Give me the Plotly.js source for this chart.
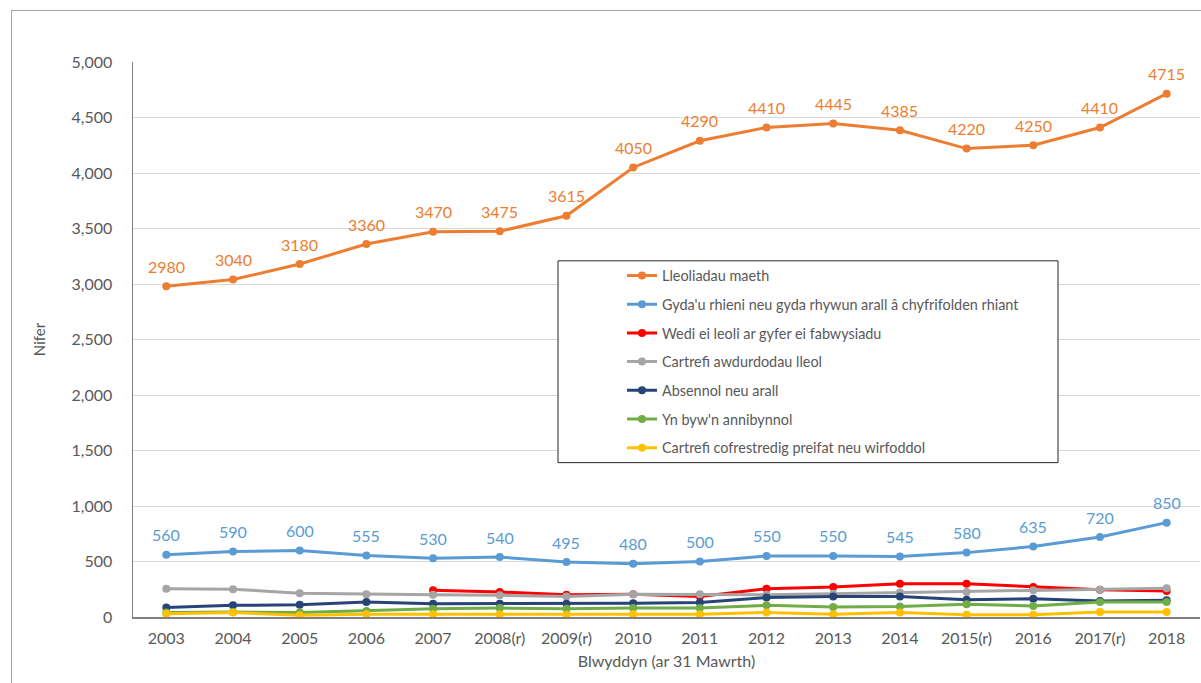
<!DOCTYPE html>
<html>
<head>
<meta charset="utf-8">
<script src="https://cdn.plot.ly/plotly-3.0.1.min.js"></script>
<style>
html,body{margin:0;padding:0;background:#fff;}
#wrap{position:relative;width:1201px;height:683px;overflow:hidden;}
#chart{position:absolute;left:0;top:0;width:1201px;height:683px;}
#frame{position:absolute;left:11px;top:10px;width:1300px;height:800px;border-left:1px solid #A6A6A6;border-top:1px solid #A6A6A6;pointer-events:none;}
</style>
</head>
<body>
<div id="wrap"><div id="chart"></div><div id="frame"></div></div>
<script>
const years = ["2003","2004","2005","2006","2007","2008(r)","2009(r)","2010","2011","2012","2013","2014","2015(r)","2016","2017(r)","2018"];

const seriesNames = [
  "Lleoliadau maeth",
  "Gyda'u rhieni neu gyda rhywun arall â chyfrifolden rhiant",
  "Wedi ei leoli ar gyfer ei fabwysiadu",
  "Cartrefi awdurdodau lleol",
  "Absennol neu arall",
  "Yn byw'n annibynnol",
  "Cartrefi cofrestredig preifat neu wirfoddol"
];

const fosterPlacements = [2980,3040,3180,3360,3470,3475,3615,4050,4290,4410,4445,4385,4220,4250,4410,4715];
const withParents      = [560,590,600,555,530,540,495,480,500,550,550,545,580,635,720,850];
const placedForAdoption= [null,null,null,null,240,225,200,205,185,255,270,300,300,270,245,235];
const laHomes          = [255,250,215,205,200,195,185,205,205,200,210,220,225,240,245,260];
const absentOther      = [85,105,110,135,120,120,120,125,130,175,185,185,155,165,145,150];
const livingIndependently = [40,45,40,55,75,80,75,80,80,105,90,95,115,100,135,135];
const privateVoluntary = [30,40,15,25,25,25,20,25,25,40,25,40,20,20,45,45];

const colors = ["#ED7D31","#5B9BD5","#FF0000","#A5A5A5","#264478","#70AD47","#FFC000"];
const values = [fosterPlacements, withParents, placedForAdoption, laHomes, absentOther, livingIndependently, privateVoluntary];
const labelled = [true, true, false, false, false, false, false];

const FONT = "Lato, 'Open Sans', sans-serif";

const traces = values.map((v, i) => ({
  type: "scatter",
  x: years,
  y: v,
  name: seriesNames[i],
  legendgroup: "g" + i,
  mode: "lines+markers",
  line: {color: colors[i], width: 3},
  marker: {color: colors[i], size: 8},
  cliponaxis: false,
  hoverinfo: "x+y+name"
}));

// data labels, positioned by category index on the category axis
const annotations = [];
values.forEach((v, i) => {
  if (!labelled[i]) return;
  v.forEach((val, j) => {
    if (val === null) return;
    annotations.push({
      x: j, y: val, xref: "x", yref: "y",
      text: String(val), showarrow: false,
      yshift: 20,
      font: {family: FONT, size: 16, color: colors[i]}
    });
  });
});

const layout = {
  width: 1201,
  height: 683,
  margin: {l: 133, r: 1, t: 62, b: 65.5},
  paper_bgcolor: "rgba(0,0,0,0)",
  plot_bgcolor: "#fff",
  font: {family: FONT, size: 16, color: "#595959"},
  showlegend: true,
  legend: {
    x: 0.4583, y: 0.644, xanchor: "left", yanchor: "top",
    bgcolor: "rgba(0,0,0,0)",
    font: {family: FONT, size: 14.4, color: "#595959"},
    tracegroupgap: 7,
    itemwidth: 30
  },
  annotations: annotations,
  xaxis: {
    type: "category",
    range: [-0.5, 15.5],
    showgrid: false,
    showline: true,
    linecolor: "#7F7F7F",
    linewidth: 1.5,
    ticks: "",
    tickfont: {family: FONT, size: 16, color: "#595959"},
    ticklabelstandoff: 6,
    title: {text: "Blwyddyn (ar 31 Mawrth)", font: {family: FONT, size: 16, color: "#595959"}, standoff: 10},
    fixedrange: true
  },
  yaxis: {
    range: [0, 5000],
    tickvals: [0,500,1000,1500,2000,2500,3000,3500,4000,4500,5000],
    ticktext: ["0","500","1,000","1,500","2,000","2,500","3,000","3,500","4,000","4,500","5,000"],
    showgrid: true,
    gridcolor: "#D9D9D9",
    gridwidth: 1,
    zeroline: false,
    showline: true,
    linecolor: "#7F7F7F",
    linewidth: 1.5,
    ticks: "",
    ticklabelstandoff: 16,
    tickfont: {family: FONT, size: 16, color: "#595959"},
    title: {text: "Nifer", font: {family: FONT, size: 15, color: "#595959"}, standoff: 22},
    fixedrange: true
  },
  shapes: [{
    type: "rect", xref: "paper", yref: "paper",
    x0: (558-133)/1067, x1: (1058-133)/1067,
    y0: (617.5-463)/555.5, y1: (617.5-261)/555.5,
    line: {color: "#262626", width: 1},
    fillcolor: "#fff",
    layer: "above"
  }]
};

Plotly.newPlot("chart", traces, layout, {displayModeBar: false, staticPlot: true});
</script>
</body>
</html>
